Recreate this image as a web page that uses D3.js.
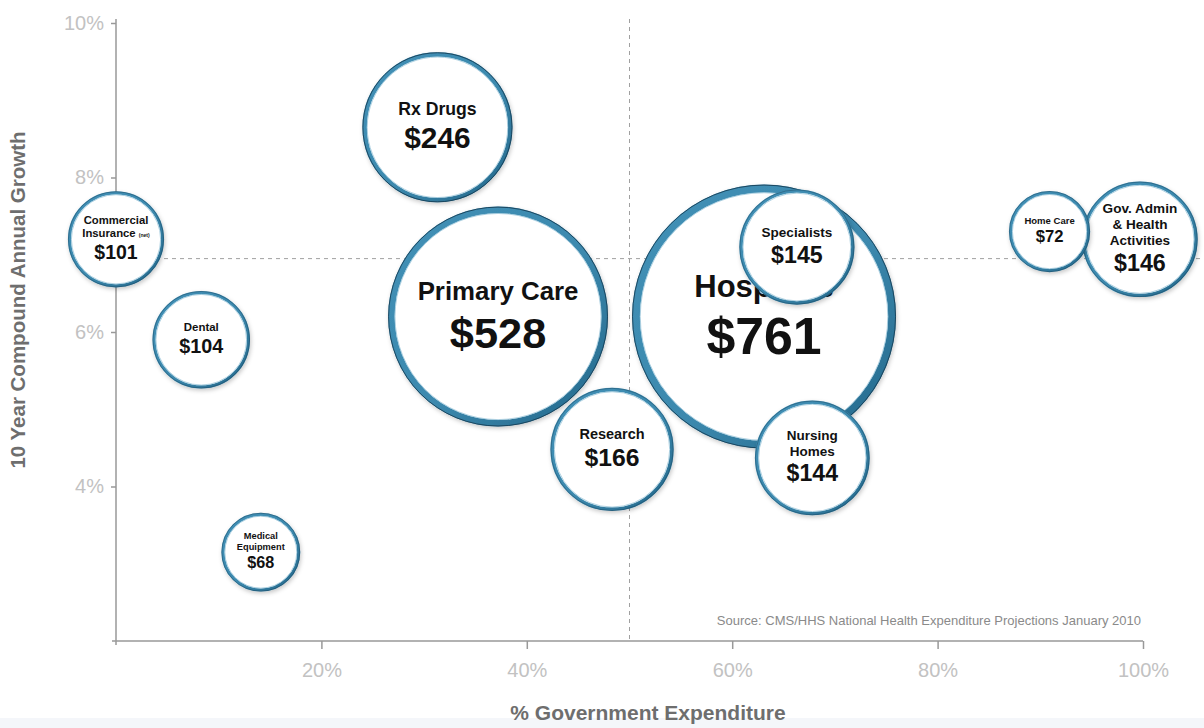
<!DOCTYPE html>
<html>
<head>
<meta charset="utf-8">
<script src="https://cdn.jsdelivr.net/npm/d3@7"></script>
<style>
  body { margin: 0; background: #fff; }
  svg { display: block; font-family: "Liberation Sans", Arial, sans-serif; }
</style>
</head>
<body>
<script>
const width = 1204
const height = 728

// data
const categories = ["Hospitals", "Primary Care", "Rx Drugs", "Research", "Gov. Admin", "Specialists",
    "Nursing Homes", "Dental", "Commercial Insurance", "Home Care", "Medical Equipment"]
const labelLines = [["Hospitals"], ["Primary Care"], ["Rx Drugs"], ["Research"], ["Gov. Admin", "& Health", "Activities"],
    ["Specialists"], ["Nursing", "Homes"], ["Dental"], ["Commercial", "Insurance (net)"], ["Home Care"], ["Medical", "Equipment"]]
const spending = [761, 528, 246, 166, 146, 145, 144, 104, 101, 72, 68]
const govShare = [63.1, 37.2, 31.3, 48.3, 99.7, 66.3, 67.8, 8.3, 0, 90.9, 14.1]
const growth = [6.2, 6.2, 8.65, 4.48, 7.2, 7.1, 4.37, 5.9, 7.2, 7.3, 3.15]
const xTicks = [20, 40, 60, 80, 100]
const yTicks = [4, 6, 8, 10]
const xDivider = 50
const yDivider = 6.95

let svg = d3.select('body').append('svg')
    .attr('width', width)
    .attr('height', height)

let x = d3.scaleLinear().domain([0, 100]).range([116, 1143])
let y = d3.scaleLinear().domain([2, 10]).range([641, 23])
let r = d3.scaleSqrt().domain([0, 761]).range([0, 132])

let defs = svg.append('defs')
let grad = defs.append('linearGradient').attr('id', 'ring')
    .attr('x1', 0).attr('y1', 0).attr('x2', 1).attr('y2', 1)
grad.append('stop').attr('offset', '0%').attr('stop-color', '#4190b6')
grad.append('stop').attr('offset', '55%').attr('stop-color', '#3c89ae')
grad.append('stop').attr('offset', '100%').attr('stop-color', '#236689')

let shadow = defs.append('filter').attr('id', 'shadow')
    .attr('x', '-20%').attr('y', '-20%').attr('width', '140%').attr('height', '140%')
shadow.append('feDropShadow').attr('dx', 1).attr('dy', 2).attr('stdDeviation', 2)
    .attr('flood-color', '#000').attr('flood-opacity', 0.22)

// faint band at the bottom
svg.append('rect').attr('x', 0).attr('y', 718).attr('width', width).attr('height', 10)
    .attr('fill', '#f4f6fa')

// AXES
let xAxis = svg.append('g').attr('transform', `translate(0,${y(2)})`)
    .call(d3.axisBottom(x).tickValues(xTicks).tickFormat(d => d + '%').tickSize(8).tickSizeOuter(0))
let yAxis = svg.append('g').attr('transform', `translate(${x(0)},0)`)
    .call(d3.axisLeft(y).tickValues(yTicks).tickFormat(d => d + '%').tickSize(5).tickSizeOuter(0))

for (let ax of [xAxis, yAxis]) {
    ax.select('.domain').attr('stroke', '#999').attr('stroke-width', 1.5)
    ax.selectAll('.tick line').attr('stroke', '#999').attr('stroke-width', 1.5)
    ax.selectAll('.tick text').attr('fill', '#c2c2c2').style('font-size', '20px')
        .style('font-family', '"Liberation Sans", Arial, sans-serif')
}
xAxis.select('.domain').attr('d', `M${x(0) - 4},0H${x(100)}`)
xAxis.selectAll('.tick text').attr('dy', '1.25em')
yAxis.select('.domain').attr('d', `M0,${y(10) - 4}V${y(2) + 4}`)
yAxis.selectAll('.tick text').attr('x', -12)

// quadrant dividers
svg.append('line')
    .attr('x1', x(xDivider)).attr('x2', x(xDivider))
    .attr('y1', y(10) - 4).attr('y2', y(2))
    .attr('stroke', '#a0a0a0').attr('stroke-dasharray', '4,4')
svg.append('line')
    .attr('x1', x(0)).attr('x2', 1202)
    .attr('y1', y(yDivider)).attr('y2', y(yDivider))
    .attr('stroke', '#a0a0a0').attr('stroke-dasharray', '4,4')

// axis titles
svg.append('text')
    .attr('x', 648).attr('y', 720)
    .attr('text-anchor', 'middle')
    .attr('fill', '#6e6e6e').style('font-size', '21px').style('font-weight', 'bold')
    .text('% Government Expenditure')
svg.append('text')
    .attr('transform', 'translate(25,300) rotate(-90)')
    .attr('text-anchor', 'middle')
    .attr('fill', '#6e6e6e').style('font-size', '20.5px').style('font-weight', 'bold')
    .text('10 Year Compound Annual Growth')

svg.append('text')
    .attr('x', 1141).attr('y', 625)
    .attr('text-anchor', 'end')
    .attr('fill', '#8a8a8a').style('font-size', '13px')
    .text('Source: CMS/HHS National Health Expenditure Projections January 2010')

// BUBBLES
let bubbles = svg.selectAll('g.bubble')
    .data(categories.map((c, i) => ({ name: c, lines: labelLines[i], value: spending[i], gx: govShare[i], gy: growth[i] })))
    .join('g')
    .attr('class', 'bubble')
    .attr('transform', d => `translate(${x(d.gx)},${y(d.gy)})`)

bubbles.each(function(d) {
    let g = d3.select(this)
    let rad = r(d.value)
    let ring = Math.max(3.2, rad * 0.06)

    g.append('circle').attr('r', rad - ring / 2)
        .attr('fill', '#fff')
        .attr('stroke', 'url(#ring)')
        .attr('stroke-width', ring)
        .attr('filter', 'url(#shadow)')
    g.append('circle').attr('r', rad - 0.5)
        .attr('fill', 'none')
        .attr('stroke', '#163c52')
        .attr('stroke-opacity', rad > 70 ? 0.85 : 0.4)
        .attr('stroke-width', 1)
    g.append('circle').attr('r', rad - ring - 0.3)
        .attr('fill', 'none')
        .attr('stroke', '#9cc6da')
        .attr('stroke-width', 0.8)

    let lf = rad * 0.235
    let vf = rad * 0.385 + 1
    let n = d.lines.length
    let blockH = 0.72 * lf + (n - 1) * 1.18 * lf + 1.1 * vf
    let base = -blockH / 2 - 2 + 0.72 * lf

    d.lines.forEach((line, k) => {
        let t = g.append('text')
            .attr('y', base + k * 1.18 * lf)
            .attr('text-anchor', 'middle')
            .attr('fill', '#111')
            .style('font-size', lf + 'px').style('font-weight', 'bold')
        if (line.endsWith('(net)')) {
            t.append('tspan').text(line.replace(' (net)', ' '))
            t.append('tspan').style('font-size', (lf * 0.45) + 'px').text('(net)')
        } else {
            t.text(line)
        }
    })
    g.append('text')
        .attr('y', base + (n - 1) * 1.18 * lf + 1.1 * vf)
        .attr('text-anchor', 'middle')
        .attr('fill', '#111')
        .style('font-size', vf + 'px').style('font-weight', 'bold')
        .text('$' + d.value)
})
</script>
</body>
</html>
